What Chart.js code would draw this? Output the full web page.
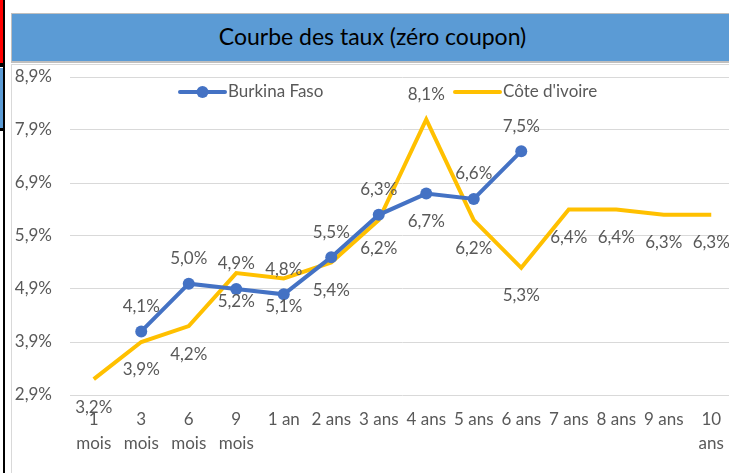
<!DOCTYPE html>
<html lang="fr">

<head>
    <meta charset="UTF-8">
    <title>Courbe des taux (zéro coupon)</title>
    <script src="https://cdn.jsdelivr.net/npm/chart.js"></script>
    <style>
        html, body {
            margin: 0;
            padding: 0;
            width: 729px;
            height: 473px;
            overflow: hidden;
            background: #fff;
            position: relative;
        }

        /* bits of the surrounding sheet, cut off by the screenshot */
        #edge-red { position: absolute; left: 0; top: 0; width: 3px; height: 63px; background: #ff0000; }
        #edge-blue { position: absolute; left: 0; top: 68px; width: 3px; height: 60px; background: #5b9bd5; }
        #edge-line { position: absolute; left: 3px; top: 0; width: 2px; height: 473px; background: #000; }
        #edge-cut1 { position: absolute; left: 0; top: 63px; width: 5px; height: 4px; background: #000; }
        #edge-cut2 { position: absolute; left: 0; top: 128px; width: 5px; height: 3px; background: #000; }

        #title {
            position: absolute;
            left: 11px;
            top: 13px;
            width: 721px;
            height: 47px;
            background: #5b9bd5;
            border: 1px solid #bfbfbf;
            border-width: 1px 1px 2px 1px;
            font-family: Lato, sans-serif;
            font-size: 23px;
            line-height: 45px;
            text-align: center;
            color: #000;
        }

        #chart-container {
            position: absolute;
            left: 11px;
            top: 64px;
            width: 740px;
            height: 412px;
            border: 1px solid #d9d9d9;
        }
    </style>
</head>

<body>
    <div id="edge-red"></div>
    <div id="edge-blue"></div>
    <div id="edge-line"></div>
    <div id="edge-cut1"></div>
    <div id="edge-cut2"></div>
    <div id="title">Courbe des taux (zéro coupon)</div>
    <div id="chart-container">
        <canvas id="tauxChart" width="740" height="410"></canvas>
    </div>

    <script>
        // Data
        const categories = [['1', 'mois'], ['3', 'mois'], ['6', 'mois'], ['9', 'mois'], '1 an', '2 ans', '3 ans',
            '4 ans', '5 ans', '6 ans', '7 ans', '8 ans', '9 ans', ['10', 'ans']];
        const burkinaFaso = [null, 4.1, 5.0, 4.9, 4.8, 5.5, 6.3, 6.7, 6.6, 7.5, null, null, null, null];
        const coteIvoire = [3.2, 3.9, 4.2, 5.2, 5.1, 5.4, 6.2, 8.1, 6.2, 5.3, 6.4, 6.4, 6.3, 6.3];
        const yTicks = [2.9, 3.9, 4.9, 5.9, 6.9, 7.9, 8.9];

        const textColor = '#595959';
        const fontFamily = 'Lato, sans-serif';
        const fontSize = 17;

        function pct(v) {
            return v.toFixed(1).replace('.', ',') + '%';
        }

        // value labels: Burkina above, Côte d'ivoire below, except where Excel swapped them
        const swappedLabels = [7];
        const valueLabels = {
            id: 'valueLabels',
            afterDatasetsDraw(chart) {
                const ctx = chart.ctx;
                ctx.save();
                ctx.font = fontSize + 'px ' + fontFamily;
                ctx.fillStyle = textColor;
                ctx.textAlign = 'center';
                ctx.textBaseline = 'middle';
                chart.data.datasets.forEach((ds, i) => {
                    const meta = chart.getDatasetMeta(i);
                    meta.data.forEach((pt, j) => {
                        const v = ds.data[j];
                        if (v === null) return;
                        let above = i === 0;
                        if (swappedLabels.includes(j)) above = !above;
                        const dy = above ? -25 : 28;
                        ctx.fillText(pct(v), pt.x, pt.y + dy);
                    });
                });
                ctx.restore();
            }
        };

        // legend drawn inside the plot, as in Excel
        const legendSpots = [180, 455];
        const insideLegend = {
            id: 'insideLegend',
            afterDraw(chart) {
                const ctx = chart.ctx;
                const y = chart.chartArea.top + 15;
                ctx.save();
                ctx.font = fontSize + 'px ' + fontFamily;
                ctx.textBaseline = 'middle';
                chart.data.datasets.forEach((ds, i) => {
                    const x = legendSpots[i] - 12;
                    ctx.strokeStyle = ds.borderColor;
                    ctx.lineWidth = 4;
                    ctx.lineCap = 'round';
                    ctx.beginPath();
                    ctx.moveTo(x, y);
                    ctx.lineTo(x + 45, y);
                    ctx.stroke();
                    if (ds.pointRadius > 0) {
                        ctx.fillStyle = ds.borderColor;
                        ctx.beginPath();
                        ctx.arc(x + 22.5, y, 6, 0, Math.PI * 2);
                        ctx.fill();
                    }
                    ctx.fillStyle = textColor;
                    ctx.fillText(ds.label, x + 48, y);
                });
                ctx.restore();
            }
        };

        var ctx = document.getElementById('tauxChart').getContext('2d');
        var tauxChart = new Chart(ctx, {
            type: 'line',
            data: {
                labels: categories,
                datasets: [
                    {
                        label: 'Burkina Faso',
                        data: burkinaFaso,
                        borderColor: '#4472c4',
                        backgroundColor: '#4472c4',
                        borderWidth: 4,
                        pointRadius: 6,
                        pointHoverRadius: 6,
                        pointBorderWidth: 0,
                        spanGaps: false
                    },
                    {
                        label: "Côte d'ivoire",
                        data: coteIvoire,
                        borderColor: '#ffc000',
                        backgroundColor: '#ffc000',
                        borderWidth: 4,
                        pointRadius: 0,
                        pointHoverRadius: 0
                    }
                ]
            },
            options: {
                responsive: false,
                animation: false,
                layout: {
                    padding: { top: 12, right: 17, bottom: 20, left: 0 }
                },
                plugins: {
                    legend: { display: false },
                    tooltip: { enabled: false }
                },
                scales: {
                    x: {
                        offset: true,
                        grid: { display: false, drawTicks: false },
                        border: { display: false },
                        ticks: {
                            color: textColor,
                            font: { family: fontFamily, size: fontSize, lineHeight: 1.4 },
                            padding: 13,
                            maxRotation: 0,
                            autoSkip: false
                        },
                        afterFit(scale) {
                            scale.height = 60;
                            scale.paddingLeft = 0;
                            scale.paddingRight = 0;
                        }
                    },
                    y: {
                        min: 2.9,
                        max: 8.9,
                        grid: { color: '#d9d9d9', lineWidth: 1, drawTicks: false },
                        border: { display: false },
                        ticks: {
                            color: textColor,
                            font: { family: fontFamily, size: fontSize },
                            padding: 18,
                            callback: v => pct(v)
                        },
                        afterBuildTicks(scale) {
                            scale.ticks = yTicks.map(v => ({ value: v }));
                        },
                        afterFit(scale) {
                            scale.width = 58;
                            scale.paddingTop = 0;
                            scale.paddingBottom = 0;
                        }
                    }
                }
            },
            plugins: [valueLabels, insideLegend]
        });
    </script>
</body>

</html>
